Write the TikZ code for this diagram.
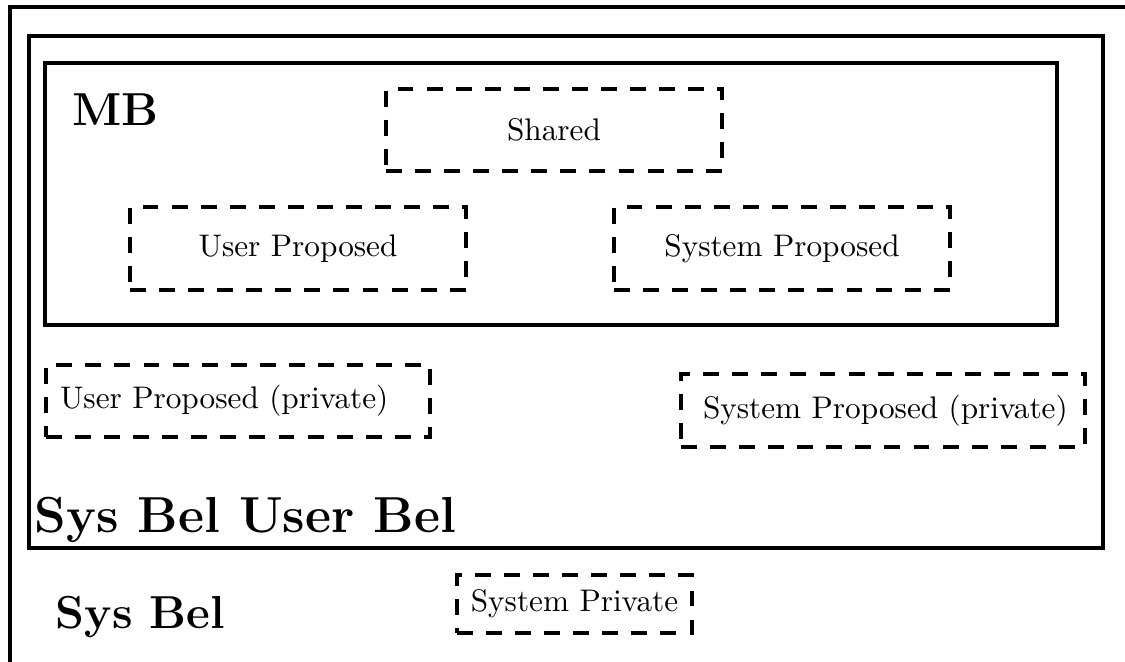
\documentclass[tikz,border=0pt]{standalone}

\begin{document}
\begin{tikzpicture}[
      x=0.32pt, y=-0.32pt,
      rahmen/.style={draw=black, line width=1pt},
      kasten/.style={draw=black, line width=1.1pt, dash pattern=on 5.1pt off 4.2pt,
                     inner sep=0pt},
      titel/.style={font=\fontsize{14.8}{18}\selectfont\bfseries, inner sep=0pt, anchor=base west}
    ]
    \def\PX{0.32pt}   % ein Bildpunkt

    \clip (0,0) rectangle (1125,662);

    % ---------- verschachtelte Rahmen ----------
    \draw[rahmen] (10,7)  rectangle (1160,700);   % Sys Bel
    \draw[rahmen] (29,36) rectangle (1103,548);   % Sys Bel User Bel
    \draw[rahmen] (45,63) rectangle (1057,325);   % MB

    \node[titel] (mb)      at (72,126) {MB};
    \node[titel, font=\fontsize{16.2}{19}\selectfont\bfseries] (sysuser) at (34,532) {Sys Bel User Bel};
    \node[titel] (sysbel)  at (55,628) {Sys Bel};

    % ---------- gestrichelte Kaesten ----------
    \node[kasten, minimum width=336*\PX, minimum height=82*\PX] (shared)  at (554,130) {Shared};
    \node[kasten, minimum width=336*\PX, minimum height=83*\PX] (userprop) at (298,248.5) {User Proposed};
    \node[kasten, minimum width=336*\PX, minimum height=83*\PX] (sysprop)  at (782,248.5) {System Proposed};

    \node[kasten, align=left, inner xsep=4.48pt, text width=113.92pt, minimum height=72*\PX]
      (userpriv) at (238,401) {\mbox{User Proposed (private)}};
    \node[kasten, align=left, inner xsep=7.04pt, text width=115.2pt, minimum height=73*\PX]
      (syspropriv) at (883,410.5) {\mbox{System Proposed (private)}};

    \node[kasten, minimum width=235*\PX, minimum height=58*\PX] (syspriv) at (574.5,604) {System Private};
  \end{tikzpicture}
\end{document}
